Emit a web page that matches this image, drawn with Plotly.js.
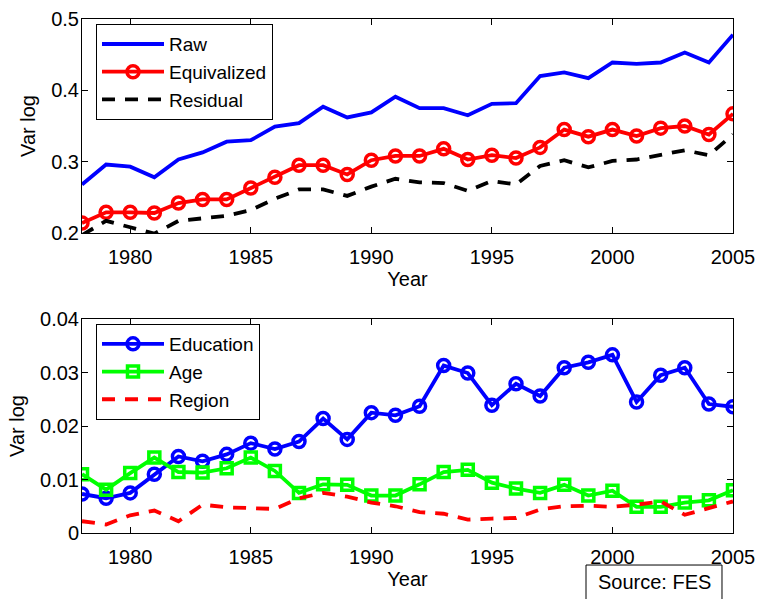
<!DOCTYPE html>
<html>
<head>
<meta charset="utf-8">
<script src="https://cdn.plot.ly/plotly-3.0.1.min.js"></script>
<style>html,body{margin:0;padding:0;background:#fff;}#chart{width:757px;height:599px;}</style>
</head>
<body>
<div id="chart"></div>
<script>
const years = [1978,1979,1980,1981,1982,1983,1984,1985,1986,1987,1988,1989,1990,1991,1992,1993,1994,1995,1996,1997,1998,1999,2000,2001,2002,2003,2004,2005];
const raw = [0.268,0.296,0.293,0.278,0.303,0.313,0.328,0.330,0.349,0.354,0.377,0.362,0.369,0.391,0.375,0.375,0.365,0.381,0.382,0.420,0.425,0.417,0.439,0.437,0.439,0.453,0.439,0.478];
const equivalized = [0.214,0.229,0.229,0.228,0.242,0.247,0.247,0.263,0.278,0.295,0.295,0.282,0.302,0.308,0.308,0.318,0.303,0.309,0.305,0.320,0.345,0.335,0.345,0.336,0.347,0.350,0.338,0.367];
const residual = [0.197,0.217,0.208,0.199,0.217,0.221,0.224,0.232,0.248,0.261,0.261,0.252,0.265,0.276,0.271,0.270,0.259,0.273,0.268,0.294,0.302,0.292,0.301,0.303,0.310,0.316,0.309,0.338];
const education = [0.0073,0.0065,0.0075,0.0110,0.0143,0.0134,0.0147,0.0168,0.0157,0.0171,0.0214,0.0175,0.0225,0.0220,0.0237,0.0313,0.0299,0.0239,0.0279,0.0256,0.0309,0.0319,0.0333,0.0245,0.0295,0.0309,0.0241,0.0236];
const age = [0.0110,0.0081,0.0112,0.0141,0.0114,0.0113,0.0121,0.0141,0.0116,0.0075,0.0091,0.0090,0.0070,0.0070,0.0091,0.0114,0.0118,0.0094,0.0083,0.0075,0.0090,0.0070,0.0079,0.0049,0.0049,0.0057,0.0061,0.0080];
const region = [0.0022,0.0016,0.0033,0.0042,0.0022,0.0053,0.0048,0.0047,0.0045,0.0065,0.0075,0.0068,0.0057,0.0050,0.0039,0.0036,0.0025,0.0027,0.0028,0.0044,0.0050,0.0051,0.0049,0.0053,0.0059,0.0034,0.0047,0.0059];

const FONT = 'Liberation Sans, Arial, Helvetica, sans-serif';
const FS = 20;
const LFS = 19;
const LW = 3.8;

const traces = [
  {x: years, y: raw, name: 'Raw', type: 'scatter', mode: 'lines',
   line: {color: '#0000ff', width: LW}, xaxis: 'x', yaxis: 'y', legend: 'legend'},
  {x: years, y: equivalized, name: 'Equivalized', type: 'scatter', mode: 'lines+markers',
   line: {color: '#ff0000', width: LW},
   marker: {symbol: 'circle-open', size: 12, color: '#ff0000', line: {width: 3.5, color: '#ff0000'}},
   xaxis: 'x', yaxis: 'y', legend: 'legend'},
  {x: years, y: residual, name: 'Residual', type: 'scatter', mode: 'lines',
   line: {color: '#000000', width: LW, dash: '13px,10px'}, xaxis: 'x', yaxis: 'y', legend: 'legend'},
  {x: years, y: education, name: 'Education', type: 'scatter', mode: 'lines+markers',
   line: {color: '#0000ff', width: LW},
   marker: {symbol: 'circle-open', size: 12, color: '#0000ff', line: {width: 3.5, color: '#0000ff'}},
   xaxis: 'x2', yaxis: 'y2', legend: 'legend2'},
  {x: years, y: age, name: 'Age', type: 'scatter', mode: 'lines+markers',
   line: {color: '#00ff00', width: LW},
   marker: {symbol: 'square-open', size: 11, color: '#00ff00', line: {width: 3.5, color: '#00ff00'}},
   xaxis: 'x2', yaxis: 'y2', legend: 'legend2'},
  {x: years, y: region, name: 'Region', type: 'scatter', mode: 'lines',
   line: {color: '#ff0000', width: LW, dash: '13px,10px'}, xaxis: 'x2', yaxis: 'y2', legend: 'legend2'}
];

const axisCommon = {
  showline: true, linecolor: '#000', linewidth: 1, mirror: 'ticks',
  ticks: 'inside', ticklen: 6, tickcolor: '#000', tickwidth: 1,
  showgrid: false, zeroline: false,
  tickfont: {family: FONT, size: FS, color: '#000'}
};

const layout = {
  width: 757, height: 599,
  margin: {l: 82, r: 24, t: 19, b: 66},
  paper_bgcolor: '#fff', plot_bgcolor: '#fff',
  font: {family: FONT, size: FS, color: '#000'},
  xaxis: Object.assign({}, axisCommon, {domain: [0, 1], range: [1978, 2005], dtick: 5, tick0: 1980, anchor: 'y',
    ticklabelstandoff: 6,
    title: {text: 'Year', font: {family: FONT, size: FS, color: '#000'}, standoff: 0}}),
  yaxis: Object.assign({}, axisCommon, {domain: [0.5837, 1], range: [0.2, 0.5], dtick: 0.1, anchor: 'x',
    ticklabelstandoff: -2,
    title: {text: 'Var log', font: {family: FONT, size: FS, color: '#000'}, standoff: 10}}),
  xaxis2: Object.assign({}, axisCommon, {domain: [0, 1], range: [1978, 2005], dtick: 5, tick0: 1980, anchor: 'y2',
    ticklabelstandoff: 6,
    title: {text: 'Year', font: {family: FONT, size: FS, color: '#000'}, standoff: 0}}),
  yaxis2: Object.assign({}, axisCommon, {domain: [0, 0.4163], range: [0, 0.04], dtick: 0.01, anchor: 'x2',
    ticklabelstandoff: -2,
    title: {text: 'Var log', font: {family: FONT, size: FS, color: '#000'}, standoff: 10}}),
  legend: {x: 0.0215, y: 0.990, xanchor: 'left', yanchor: 'top', bgcolor: '#fff',
    bordercolor: '#000', borderwidth: 1, itemwidth: 62, tracegroupgap: 0,
    font: {family: FONT, size: LFS, color: '#000'}},
  legend2: {x: 0.0215, y: 0.4066, xanchor: 'left', yanchor: 'top', bgcolor: '#fff',
    bordercolor: '#000', borderwidth: 1, itemwidth: 62, tracegroupgap: 0,
    font: {family: FONT, size: LFS, color: '#000'}},
  shapes: [
    {type: 'rect', xref: 'paper', yref: 'paper', x0: 0.7742, x1: 0.9831, y0: -0.14, y1: -0.0623,
     line: {color: '#000', width: 1}, fillcolor: 'rgba(0,0,0,0)'}
  ],
  annotations: [
    {text: 'Source: FES', xref: 'paper', yref: 'paper', x: 0.8787, y: -0.0953,
     xanchor: 'center', yanchor: 'middle', showarrow: false,
     font: {family: FONT, size: FS, color: '#000'}}
  ],
  showlegend: true
};

Plotly.newPlot('chart', traces, layout, {displayModeBar: false, staticPlot: true});
</script>
</body>
</html>
